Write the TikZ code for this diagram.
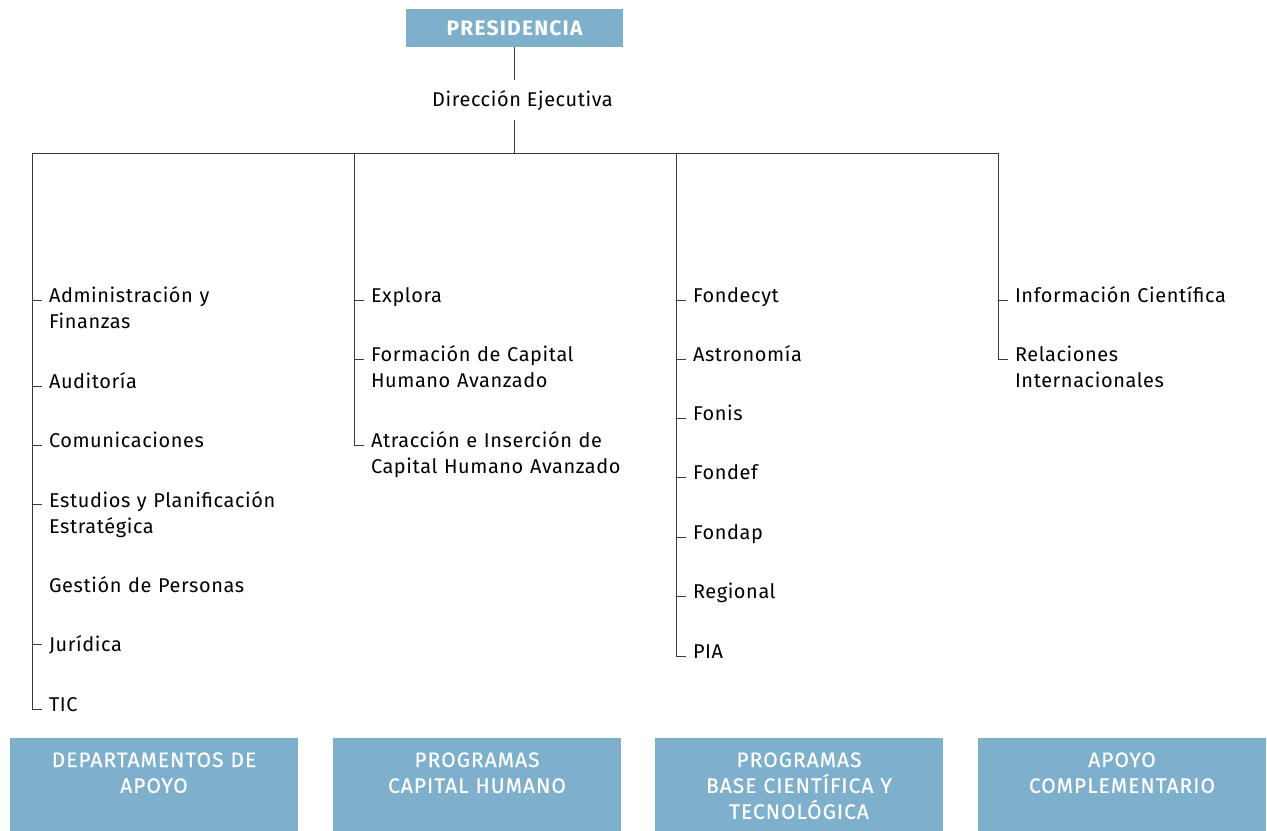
\documentclass[tikz,border=0pt]{standalone}
\usepackage{fontspec}
\usetikzlibrary{calc}
\setmainfont{Fira Sans}[LetterSpace=3]
\newfontfamily\headfont{Fira Sans}[LetterSpace=6]
\newfontfamily\catfont{Fira Sans}[LetterSpace=5, FakeBold=0.6]
\begin{document}
\definecolor{boxblue}{HTML}{7EAFCB}
\definecolor{linegray}{HTML}{3A3A3A}
\begin{tikzpicture}[x=1bp,y=-1bp,
  every node/.style={inner sep=0pt, outer sep=0pt},
  trunk/.style={draw=linegray, line width=1bp},
  twig/.style={draw=linegray, line width=1bp},
  item/.style={anchor=base west, text width=300bp, align=left,
    font=\fontsize{20}{27}\selectfont, text=black},
  topbox/.style={fill=boxblue, text=white, minimum width=217bp, minimum height=38bp,
    font=\headfont\fontsize{21}{22}\selectfont\bfseries},
  catbox/.style={fill=boxblue, text=white, anchor=north, text width=288bp, align=center,
    text height=29bp, text depth=64bp, font=\catfont\fontsize{21}{26}\selectfont}
]
\useasboundingbox (0,0) rectangle (1267,831);

% top of the chart
\node[topbox] (pres) at (514.5,28) {PRESIDENCIA};
\node[anchor=base, font=\fontsize{20}{27}\selectfont] (dir) at (522.5,106) {Dirección Ejecutiva};
\coordinate (hub) at (514.5,153);
\coordinate (dtop) at (514.5,80);
\coordinate (dbot) at (514.5,120);
\draw[trunk] (pres.south) -- (dtop);
\draw[trunk] (dbot) -- (hub);

% column heads on the bar
\coordinate (c1) at (32,153);
\coordinate (c2) at (354,153);
\coordinate (c3) at (676,153);
\coordinate (c4) at (998,153);
\draw[trunk] (c1) -- (c4);

% column 1: departamentos de apoyo
\node[item] (a1) at (49,302) {Administración y\\Finanzas};
\node[item] (a2) at (49,388) {Auditoría};
\node[item] (a3) at (49,447) {Comunicaciones};
\node[item] (a4) at (49,507) {Estudios y Planificación\\Estratégica};
\node[item] (a5) at (49,592) {Gestión de Personas};
\node[item] (a6) at (49,651) {Jurídica};
\node[item] (a7) at (49,711) {TIC};

% column 2: capital humano
\node[item] (b1) at (371,302) {Explora};
\node[item] (b2) at (371,361) {Formación de Capital\\Humano Avanzado};
\node[item] (b3) at (371,447) {Atracción e Inserción de\\Capital Humano Avanzado};

% column 3: base científica y tecnológica
\node[item] (p1) at (693,302) {Fondecyt};
\node[item] (p2) at (693,361) {Astronomía};
\node[item] (p3) at (693,420) {Fonis};
\node[item] (p4) at (693,479) {Fondef};
\node[item] (p5) at (693,539) {Fondap};
\node[item] (p6) at (693,598) {Regional};
\node[item] (p7) at (693,658) {PIA};

% column 4: apoyo complementario
\node[item] (r1) at (1015,302) {Información Científica};
\node[item] (r2) at (1015,361) {Relaciones\\Internacionales};

% vertical stems, each ending at its last item
\draw[trunk] (c1) -- ($(a7.base west -| c1)+(0,-2)$);
\draw[trunk] (c2) -- ($(b3.base west -| c2)+(0,-2)$);
\draw[trunk] (c3) -- ($(p7.base west -| c3)+(0,-2)$);
\draw[trunk] (c4) -- ($(r2.base west -| c4)+(0,-2)$);

% ticks from the stems to the items
\foreach \n/\c/\d in {a1/c1/2,a2/c1/2,a3/c1/2,a4/c1/3,a6/c1/7,a7/c1/2,
                      b1/c2/2,b2/c2/2,b3/c2/2,
                      p1/c3/2,p2/c3/2,p3/c3/2,p4/c3/2,p5/c3/2,p6/c3/2,p7/c3/2,
                      r1/c4/2,r2/c4/2}
  \draw[twig] ($(\n.base west -| \c)+(0,-\d)$) -- ($(\n.base west -| \c)+(10,-\d)$);

% category boxes
\node[catbox] (k1) at (154,738) {DEPARTAMENTOS DE\\APOYO};
\node[catbox] (k2) at (477,738) {PROGRAMAS\\CAPITAL HUMANO};
\node[catbox] (k3) at (799,738) {PROGRAMAS\\BASE CIENTÍFICA Y\\TECNOLÓGICA};
\node[catbox] (k4) at (1122,738) {APOYO\\COMPLEMENTARIO};
\end{tikzpicture}
\end{document}
